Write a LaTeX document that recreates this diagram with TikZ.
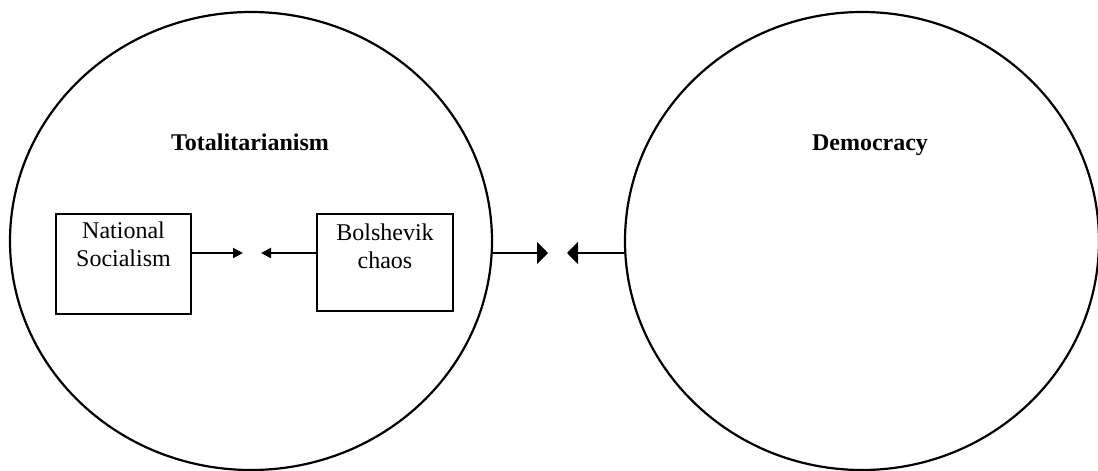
\documentclass[tikz,border=0pt]{standalone}
\usepackage{fontspec}
\setmainfont{Liberation Serif}
\usetikzlibrary{shapes.geometric, arrows.meta, positioning}

\begin{document}
\begin{tikzpicture}[
        x=0.5pt, y=-0.5pt, % 1 unidade = 1 pixel da figura original
        esfera/.style={ellipse, draw, line width=1.1pt, inner sep=0pt, minimum height=229pt},
        caixa/.style={rectangle, draw, line width=1.1pt, inner sep=0pt, anchor=north, font=\fontsize{12}{14}\selectfont},
        titulo/.style={anchor=base, font=\fontsize{12}{14}\selectfont\bfseries},
        seta/.style={-{Triangle[length=5pt, width=5pt]}, line width=1pt},
        setagrande/.style={-{Triangle[length=5.5pt, width=11pt]}, line width=1pt}
        ]
        \useasboundingbox (0,0) rectangle (1098,471);

        % Os dois grandes blocos
        \node[esfera, minimum width=241pt] (total) at (251, 241) {};
        \node[esfera, minimum width=237pt] (democ) at (862, 241) {};

        \node[titulo] (tittotal) at (250, 150) {Totalitarianism};
        \node[titulo] (titdemoc) at (870, 150) {Democracy};

        % Caixas internas
        \node[caixa] (natsoc) at (123.5, 213) {\parbox[b][50pt][t]{67.5pt}{\centering\rule{0pt}{12pt}National\\Socialism}};
        \node[caixa] (bolsh) at (385, 213) {\parbox[b][48.5pt][t]{68pt}{\centering\rule{0pt}{13pt}Bolshevik\\chaos}};

        % Pontas livres das setas
        \coordinate (pontaA) at (243, 253);
        \coordinate (pontaB) at (261, 253);
        \coordinate (pontaC) at (548, 253);
        \coordinate (pontaD) at (567, 253);

        \draw[seta] (natsoc.east |- pontaA) -- (pontaA);
        \draw[seta] (bolsh.west |- pontaB) -- (pontaB);
        \draw[setagrande] (total.east |- pontaC) -- (pontaC);
        \draw[setagrande] (democ.west |- pontaD) -- (pontaD);

    \end{tikzpicture}
\end{document}
